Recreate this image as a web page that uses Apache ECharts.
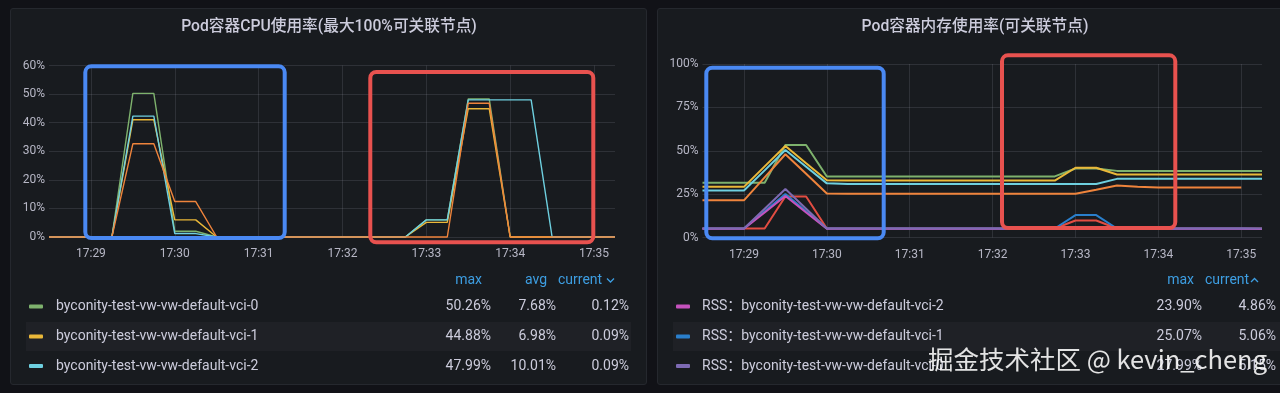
<!DOCTYPE html>
<html><head><meta charset="utf-8">
<script src="https://cdn.jsdelivr.net/npm/echarts@6/dist/echarts.min.js"></script>
<style>
html,body{margin:0;padding:0;background:#111217;width:1280px;height:393px;overflow:hidden;}
.panel{position:absolute;background:#181b1f;border:1px solid #25282e;border-radius:3px;box-sizing:border-box;}
.stripe{position:absolute;background:#1f2126;}
#chart{position:absolute;left:0;top:0;width:1280px;height:393px;}
</style></head><body>
<div class="panel" style="left:10px;top:8px;width:637px;height:377px"></div>
<div class="panel" style="left:657px;top:8px;width:640px;height:377px"></div>
<div class="stripe" style="left:26px;top:322px;width:605px;height:29px"></div>
<div class="stripe" style="left:673px;top:322px;width:607px;height:29px"></div>
<div id="chart"></div>
<script>
// ---------- data ----------
const times = ['17:28:30','17:28:45','17:29:00','17:29:15','17:29:30','17:29:45','17:30:00','17:30:15','17:30:30','17:30:45','17:31:00','17:31:15','17:31:30','17:31:45','17:32:00','17:32:15','17:32:30','17:32:45','17:33:00','17:33:15','17:33:30','17:33:45','17:34:00','17:34:15','17:34:30','17:34:45','17:35:00','17:35:15'];

const cpuTitle = 'Pod容器CPU使用率(最大100%可关联节点)';
const memTitle = 'Pod容器内存使用率(可关联节点)';

const cpuNames = ['byconity-test-vw-vw-default-vci-0','byconity-test-vw-vw-default-vci-1','byconity-test-vw-vw-default-vci-2','byconity-test-vw-vw-default-vci-3'];
const cpuVci0 = [0,0,0,0,50.26,50.26,2.0,2.0,0,0,0,0,0,0,0,0,0,0,6.0,6.0,48.3,48.3,0,0,0,0,0,0.12];
const cpuVci1 = [0,0,0,0,41.0,41.0,6.0,6.0,0,0,0,0,0,0,0,0,0,0,5.1,5.1,44.88,44.88,0,0,0,0,0,0.09];
const cpuVci2 = [0,0,0,0,42.3,42.3,1.2,1.2,0,0,0,0,0,0,0,0,0,0,6.0,6.0,47.99,47.99,47.99,47.99,0,0,0,0.09];
const cpuVci3 = [0,0,0,0,32.6,32.6,12.4,12.4,0,0,0,0,0,0,0,0,0,0,0,0,46.8,46.8,0,0,0,0,0,0];

const memNames = ['Usage：byconity-test-vw-vw-default-vci-0','Usage：byconity-test-vw-vw-default-vci-1','Usage：byconity-test-vw-vw-default-vci-2','Cache：byconity-test-vw-vw-default-vci-1','RSS：byconity-test-vw-vw-default-vci-3','RSS：byconity-test-vw-vw-default-vci-1','RSS：byconity-test-vw-vw-default-vci-2','RSS：byconity-test-vw-vw-default-vci-0'];
const memGreen  = [31.5,31.5,31.5,31.5,53.3,53.3,35.2,35.2,35.2,35.2,35.2,35.2,35.2,35.2,35.2,35.2,35.2,35.2,39.8,39.8,38.4,38.4,38.4,38.4,38.4,38.4,38.4,38.4];
const memYellow = [29.2,29.2,29.2,41.0,52.7,42.8,33.0,32.8,32.8,32.8,32.8,32.8,32.8,32.8,32.8,32.8,32.8,32.8,40.2,40.2,36.3,36.3,36.3,36.3,36.3,36.3,36.3,36.3];
const memCyan   = [27.1,27.1,27.1,38.7,50.4,40.8,31.2,30.8,30.8,30.8,30.8,30.8,30.8,30.8,30.8,30.8,30.8,30.8,30.8,30.8,33.8,33.8,33.8,33.8,33.8,33.8,33.8,33.8];
const memOrange = [21.4,21.4,21.4,34.7,48.0,36.7,25.4,25.2,25.2,25.2,25.2,25.2,25.2,25.2,25.2,25.2,25.2,25.2,25.2,27.5,30.0,29.3,28.8,28.8,28.8,28.8,28.8,null];
const memRed    = [5.2,5.2,5.2,5.2,23.6,23.6,5.2,5.2,5.2,5.2,5.2,5.2,5.2,5.2,5.2,5.2,5.2,5.2,9.8,9.8,5.2,5.2,5.2,5.2,5.2,5.2,5.2,5.2];
const memBlue   = [5.2,5.2,5.2,15.1,25.07,15.1,5.2,5.2,5.2,5.2,5.2,5.2,5.2,5.2,5.2,5.2,5.2,5.2,12.9,12.9,5.2,5.2,5.2,5.2,5.2,5.2,5.2,5.06];
const memPink   = [5.0,5.0,5.0,14.4,23.90,14.4,5.0,5.0,5.0,5.0,5.0,5.0,5.0,5.0,5.0,5.0,5.0,5.0,5.0,5.0,5.0,5.0,5.0,5.0,5.0,5.0,5.0,4.86];
const memPurple = [5.2,5.2,5.2,16.6,27.99,16.6,5.2,5.2,5.2,5.2,5.2,5.2,5.2,5.2,5.2,5.2,5.2,5.2,5.2,5.2,5.2,5.2,5.2,5.2,5.2,5.2,5.2,5.15];

// legend tables
const cpuLegendNames = ['byconity-test-vw-vw-default-vci-0','byconity-test-vw-vw-default-vci-1','byconity-test-vw-vw-default-vci-2'];
const cpuLegendMax = ['50.26%','44.88%','47.99%'];
const cpuLegendAvg = ['7.68%','6.98%','10.01%'];
const cpuLegendCurrent = ['0.12%','0.09%','0.09%'];
const memLegendNames = ['RSS：byconity-test-vw-vw-default-vci-2','RSS：byconity-test-vw-vw-default-vci-1','RSS：byconity-test-vw-vw-default-vci-0'];
const memLegendMax = ['23.90%','25.07%','27.99%'];
const memLegendCurrent = ['4.86%','5.06%','5.15%'];
const watermark = '掘金技术社区 @ kevin_cheng';

// ---------- styles ----------
const C = {green:'#7EB26D', yellow:'#EAB839', cyan:'#6ED0E0', orange:'#EF843C', red:'#E24D42', blue:'#2A7FCC', pink:'#C552BD', purple:'#7D6AB3'};
const FONT = 'Roboto, "Noto Sans CJK SC", sans-serif';
const labelColor = 'rgba(204,204,220,0.88)';
const gridColor = 'rgba(204,204,220,0.13)';
const headColor = '#3d9ee2';

const isMinute = (i, v) => String(v).endsWith(':00');
function mkX(gi){
  return {type:'category', gridIndex:gi, data:times, boundaryGap:false,
    axisLine:{show:false}, axisTick:{show:false},
    axisLabel:{interval:isMinute, formatter:v=>v.slice(0,5), color:labelColor, fontSize:12, fontFamily:FONT, margin:11},
    splitLine:{show:true, interval:isMinute, lineStyle:{color:gridColor, width:1}}};
}
function mkY(gi, max, interval){
  return {type:'value', gridIndex:gi, min:0, max:max, interval:interval,
    axisLine:{show:false}, axisTick:{show:false},
    axisLabel:{formatter:'{value}%', color:labelColor, fontSize:12, fontFamily:FONT, margin:4},
    splitLine:{lineStyle:{color:gridColor, width:1}}};
}
function mkS(name, data, color, gi, w){
  return {type:'line', name:name, data:data, xAxisIndex:gi, yAxisIndex:gi, symbol:'none', showSymbol:false,
    lineStyle:{color:color, width:w}, itemStyle:{color:color}, connectNulls:false, clip:false, animation:false, z:5};
}

const g = [];
function txt(x, y, text, opt){
  opt = opt || {};
  g.push({type:'text', x:x, y:y, z:10, silent:true, style:{text:text, fill:opt.fill||'#ccccdc',
    font:(opt.weight||'400')+' '+(opt.size||14)+'px '+FONT,
    align:opt.align||'left', textAlign:opt.align||'left', verticalAlign:'middle', textVerticalAlign:'middle'}});
}
function swatch(x, y, color){
  g.push({type:'rect', z:10, silent:true, shape:{x:x, y:y-2, width:14, height:4, r:1}, style:{fill:color}});
}
function box(x, y, w, h, color){
  g.push({type:'rect', z:100, silent:true, shape:{x:x, y:y, width:w, height:h, r:6}, style:{fill:'none', stroke:color, lineWidth:4}});
}
function chevron(x, y, up){
  const pts = up ? [[x,y+2],[x+3.5,y-1.5],[x+7,y+2]] : [[x,y-1.5],[x+3.5,y+2],[x+7,y-1.5]];
  g.push({type:'polyline', z:10, silent:true, shape:{points:pts}, style:{stroke:headColor, lineWidth:1.3, fill:'none'}});
}

// titles
txt(329, 27, cpuTitle, {size:15.7, weight:'500', align:'center'});
txt(975, 27, memTitle, {size:15.7, weight:'500', align:'center'});

// CPU legend
const rowsY = [306.5, 336.5, 366];
txt(482, 280, 'max', {fill:headColor, align:'right'});
txt(547, 280, 'avg', {fill:headColor, align:'right'});
txt(558, 280, 'current', {fill:headColor});
chevron(607, 280, false);
const cpuColors = [C.green, C.yellow, C.cyan];
for (let i=0;i<3;i++){
  swatch(29, rowsY[i], cpuColors[i]);
  txt(56, rowsY[i], cpuLegendNames[i]);
  txt(491, rowsY[i], cpuLegendMax[i], {align:'right'});
  txt(556, rowsY[i], cpuLegendAvg[i], {align:'right'});
  txt(629, rowsY[i], cpuLegendCurrent[i], {align:'right'});
}
// Memory legend
txt(1194, 280, 'max', {fill:headColor, align:'right'});
txt(1205, 280, 'current', {fill:headColor});
chevron(1251, 280, true);
const memColors = [C.pink, C.blue, C.purple];
for (let i=0;i<3;i++){
  swatch(676, rowsY[i], memColors[i]);
  txt(702, rowsY[i], memLegendNames[i]);
  txt(1202, rowsY[i], memLegendMax[i], {align:'right'});
  txt(1276, rowsY[i], memLegendCurrent[i], {align:'right'});
}

// annotation boxes
box(85.3, 66.3, 199.4, 171.7, '#4A89F3');
box(370.3, 72, 223, 170.3, '#E8524F');
box(706.3, 67.7, 177.4, 170.6, '#4A89F3');
box(1002, 55.3, 173.3, 172.7, '#E8524F');

// watermark
g.push({type:'text', x:928, y:359, z:200, silent:true, style:{text:watermark, fill:'rgba(255,255,255,0.88)',
  font:'400 25.5px "Noto Sans CJK SC", sans-serif', align:'left', textAlign:'left', verticalAlign:'middle', textVerticalAlign:'middle',
  shadowColor:'rgba(0,0,0,0.6)', shadowBlur:3}});

const chart = echarts.init(document.getElementById('chart'), null, {renderer:'canvas'});
chart.setOption({
  backgroundColor:'transparent',
  animation:false,
  grid:[
    {left:49, top:65.5, width:566, height:171.5},
    {left:702.5, top:64, width:559.5, height:173.5}
  ],
  xAxis:[mkX(0), mkX(1)],
  yAxis:[mkY(0, 60, 10), mkY(1, 100, 25)],
  series:[
    mkS(cpuNames[0], cpuVci0, C.green, 0, 1.4),
    mkS(cpuNames[1], cpuVci1, C.yellow, 0, 1.4),
    mkS(cpuNames[2], cpuVci2, C.cyan, 0, 1.4),
    mkS(cpuNames[3], cpuVci3, C.orange, 0, 1.4),
    mkS(memNames[0], memGreen, C.green, 1, 2),
    mkS(memNames[1], memYellow, C.yellow, 1, 2),
    mkS(memNames[2], memCyan, C.cyan, 1, 2),
    mkS(memNames[3], memOrange, C.orange, 1, 2),
    mkS(memNames[4], memRed, C.red, 1, 2),
    mkS(memNames[5], memBlue, C.blue, 1, 2),
    mkS(memNames[6], memPink, C.pink, 1, 2),
    mkS(memNames[7], memPurple, C.purple, 1, 2)
  ],
  graphic:{elements:g}
});
</script>
</body></html>
